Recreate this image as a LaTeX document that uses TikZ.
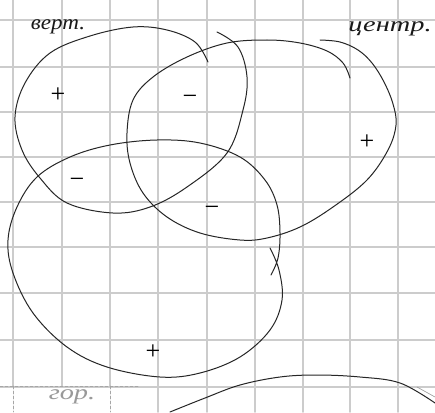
\documentclass[tikz,border=0pt]{standalone}
\usepackage{fontspec}
\setmainfont{Liberation Serif}
\usepackage{tikz}
\usetikzlibrary{
  calc % 坐标计算
}

\begin{document}
\begin{tikzpicture}[x=1pt, y=-1pt, line join=round, line cap=round]
  % 统一设置：方格纸、手绘曲线、符号与标签
  \tikzset{
    paper grid/.style={draw=black!20, line width=1.6pt},
    paper dash/.style={draw=black!35, line width=0.8pt, dash pattern=on 3pt off 2pt},
    sketch curve/.style={draw=black!85, line width=1pt},
    sign mark/.style={font=\fontsize{26}{26}\selectfont, inner sep=0pt, text=black},
    hand label/.style={font=\fontsize{21}{21}\selectfont\itshape, inner sep=0pt, text=black!90}
  }

  % 画布大小
  \useasboundingbox (0,0) rectangle (435,412);
  \fill[white] (0,0) rectangle (435,412);

  % =======================
  % 方格纸
  % =======================
  \foreach \gx in {13, 62, 110, 158, 207, 255, 303, 350, 398}
    \draw[paper grid] (\gx,0) -- (\gx,386);
  \foreach \gx in {158, 207, 255, 303, 350, 398}
    \draw[paper grid] (\gx,386) -- (\gx,412);
  \foreach \gy in {20, 67, 112, 157, 202, 247, 293, 340, 387}
    \draw[paper grid] (0,\gy) -- (435,\gy);
  % 左下角的虚线格
  \draw[paper dash] (0,386) -- (138,386);
  \draw[paper dash] (13,386) -- (13,412);
  \draw[paper dash] (110,386) -- (110,412);

  % =======================
  % 曲线 1：“верт.”
  % =======================
  \draw[sketch curve] plot[smooth, tension=0.6] coordinates {
    (208,62) (195,42) (167,30) (133,27) (90,36) (50,53) (25,83) (15,117)
    (22,150) (40,178) (67,203) (113,213) (150,207) (187,187) (227,153)
    (243,110) (247,77) (238,47) (217,32)};

  % =======================
  % 曲线 2：“центр.”
  % =======================
  \draw[sketch curve] plot[smooth, tension=0.6] coordinates {
    (320,40) (340,42) (358,50) (372,63) (384,82) (393,104) (396,125)
    (388,150) (367,180) (333,207) (300,227) (267,238) (240,240) (200,233)
    (167,217) (143,193) (130,163) (127,133) (133,100) (153,77) (187,57)
    (227,43) (267,40) (300,43) (327,51) (343,63) (350,78)};

  % =======================
  % 曲线 3：“гор.”
  % =======================
  \draw[sketch curve] plot[smooth, tension=0.6] coordinates {
    (270,248) (279,270) (282,300) (270,330) (240,357) (200,373) (160,377)
    (107,367) (67,347) (33,313) (13,273) (8,240) (17,207) (37,177)
    (70,157) (110,145) (157,140) (200,143) (240,157) (265,180) (277,205)
    (280,233) (278,258) (271,275)};

  % 下方的波浪线
  \draw[sketch curve] plot[smooth, tension=0.6] coordinates {
    (170,412) (205,398) (240,385) (280,377) (317,375) (360,377) (400,383) (435,403)};
  \draw[draw=black!40, line width=0.6pt] (417,387) -- (435,397);

  % =======================
  % 符号
  % =======================
  \node[sign mark] (s1) at (58,95) {+};
  \node[sign mark] (s2) at (190,100) {−};
  \node[sign mark] (s3) at (367,142) {+};
  \node[sign mark] (s4) at (77,183) {−};
  \node[sign mark] (s5) at (212,211) {−};
  \node[sign mark] (s6) at (153,352) {+};

  % =======================
  % 标签
  % =======================
  \node[hand label, xscale=1.1] (vert) at (58,27) {верт.};
  \node[hand label, xscale=1.35] (centr) at (390,29) {центр.};
  \node[hand label, xscale=1.35, text=black!40] (gor) at (72,397) {гор.};

\end{tikzpicture}
\end{document}
